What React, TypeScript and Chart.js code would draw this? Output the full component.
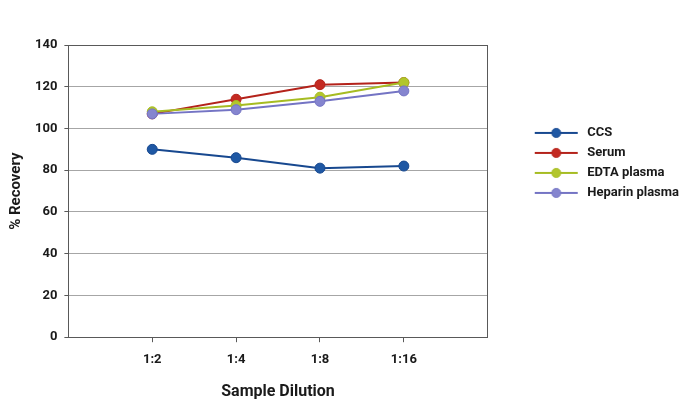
import React, { useEffect, useRef } from "react";
import { Chart, registerables } from "chart.js";

Chart.register(...registerables);

const categories = ["", "1:2", "1:4", "1:8", "1:16", ""];
const seriesNames = ["CCS", "Serum", "EDTA plasma", "Heparin plasma"];
const ccs = [null, 90, 86, 81, 82, null];
const serum = [null, 107, 114, 121, 122, null];
const edta = [null, 108, 111, 115, 122, null];
const heparin = [null, 107, 109, 113, 118, null];
const yTicks = [0, 20, 40, 60, 80, 100, 120, 140];

const lineColors = ["#17488f", "#b4221a", "#a6bc22", "#7474c4"];
const pointColors = ["#1f58a4", "#c42a22", "#b2c62c", "#8585cf"];

const FONT = "Roboto, 'Liberation Sans', sans-serif";
const TEXT = "#1a1a1a";

function legendImage(line: string, fill: string): HTMLCanvasElement {
  const c = document.createElement("canvas");
  c.width = 86;
  c.height = 14;
  const g = c.getContext("2d")!;
  g.strokeStyle = line;
  g.lineWidth = 2;
  g.beginPath();
  g.moveTo(40, 7);
  g.lineTo(83, 7);
  g.stroke();
  g.fillStyle = fill;
  g.beginPath();
  g.arc(61.5, 7, 4.5, 0, Math.PI * 2);
  g.fill();
  g.strokeStyle = line;
  g.lineWidth = 1;
  g.stroke();
  return c;
}

export default function App() {
  const ref = useRef<HTMLCanvasElement | null>(null);

  useEffect(() => {
    if (!ref.current) return;
    const values = [ccs, serum, edta, heparin];
    const images = values.map((_, i) => legendImage(lineColors[i], pointColors[i]));
    const datasets = values.map((d, i) => ({
      label: seriesNames[i],
      data: d,
      borderColor: lineColors[i],
      backgroundColor: pointColors[i],
      pointBackgroundColor: pointColors[i],
      pointBorderColor: lineColors[i],
      pointBorderWidth: 1,
      pointRadius: 5,
      borderWidth: 2,
      spanGaps: false,
      order: values.length - i,
    }));

    const chart = new Chart(ref.current, {
      type: "line",
      data: { labels: categories, datasets },
      options: {
        animation: false,
        responsive: false,
        maintainAspectRatio: false,
        layout: { padding: { left: 0, top: 45, right: 5, bottom: 0 } },
        plugins: {
          tooltip: { enabled: false },
          legend: {
            position: "right",
            align: "start",
            maxWidth: 203,
            title: {
              display: true,
              text: "",
              font: { size: 12, family: FONT },
              padding: { top: 60, bottom: 0 },
            },
            labels: {
              usePointStyle: true,
              pointStyleWidth: 86,
              padding: 7,
              color: TEXT,
              font: { size: 13, weight: "bold", family: FONT },
              sort: (a: any, b: any) => a.datasetIndex - b.datasetIndex,
              generateLabels: (ch: any) => {
                const items = Chart.defaults.plugins.legend.labels.generateLabels(ch);
                return items.map((it: any) => ({ ...it, pointStyle: images[it.datasetIndex] }));
              },
            },
          },
        },
        scales: {
          x: {
            type: "category",
            offset: false,
            grid: {
              display: true,
              drawOnChartArea: false,
              drawTicks: true,
              tickLength: 5,
              color: (c: any) => (c.index === 0 || c.index === categories.length - 1 ? "rgba(0,0,0,0)" : "#595959"),
            },
            border: { display: true, color: "#595959", width: 1 },
            ticks: {
              autoSkip: false,
              maxRotation: 0,
              padding: 10,
              color: TEXT,
              font: { size: 13, weight: "bold", family: FONT },
            },
            title: {
              display: true,
              text: "Sample Dilution",
              color: TEXT,
              font: { size: 16, weight: "bold", family: FONT },
              padding: { top: 5, bottom: 3 },
            },
          },
          y: {
            min: yTicks[0],
            max: yTicks[yTicks.length - 1],
            afterBuildTicks: (axis: any) => {
              axis.ticks = yTicks.map((v) => ({ value: v }));
            },
            grid: {
              drawTicks: true,
              tickLength: 4,
              color: (c: any) => (c.tick && c.tick.value === yTicks[yTicks.length - 1] ? "#595959" : "#a6a6a6"),
              tickColor: "#595959",
            },
            border: { display: true, color: "#595959", width: 1 },
            ticks: {
              padding: 7,
              color: TEXT,
              font: { size: 13, weight: "bold", family: FONT },
            },
            title: {
              display: true,
              text: "% Recovery",
              color: TEXT,
              font: { size: 15, weight: "bold", family: FONT },
              padding: { top: 7, bottom: 3 },
            },
          },
          y2: {
            position: "right",
            min: yTicks[0],
            max: yTicks[yTicks.length - 1],
            grid: { drawOnChartArea: false, drawTicks: false },
            border: { display: true, color: "#595959", width: 1 },
            ticks: { display: false },
          },
        },
      },
    } as any);
    return () => chart.destroy();
  }, []);

  return (
    <div style={{ position: "fixed", left: 0, top: 0, width: 694, height: 405, background: "#fff" }}>
      <canvas ref={ref} width={694} height={405} />
    </div>
  );
}
